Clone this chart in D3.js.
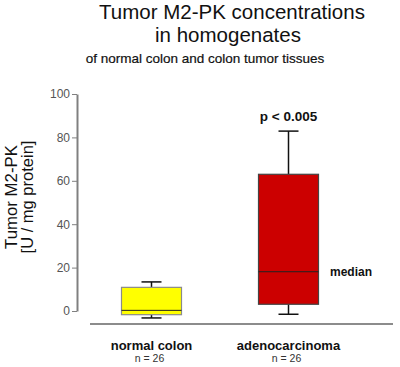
<!DOCTYPE html>
<html>
<head>
<meta charset="utf-8">
<script src="https://cdn.jsdelivr.net/npm/d3@7"></script>
<style>
  html, body { margin: 0; padding: 0; background: #fff; }
  svg { display: block; font-family: Arial, "Liberation Sans", sans-serif; }
</style>
</head>
<body>
<svg id="chart" width="400" height="367"></svg>
<script>
// ---- data ----
const categories = ["normal colon", "adenocarcinoma"];
const nLabels = ["n = 26", "n = 26"];
const whiskerLow = [-3.2, -1.5];
const q1 = [-1.7, 3.1];
const median = [0.3, 18.1];
const q3 = [10.9, 63.0];
const whiskerHigh = [13.4, 82.9];
const boxColors = ["#FFFF00", "#CC0000"];
const boxStrokes = ["#8a8a8a", "#444444"];
const yTicks = [0, 20, 40, 60, 80, 100];
const titleLines = ["Tumor M2-PK concentrations", "in homogenates", "of normal colon and colon tumor tissues"];
const yLabelLines = ["Tumor M2-PK", "[U / mg protein]"];
const pLabel = "p < 0.005";
const medianLabel = "median";

// ---- layout ----
const svg = d3.select("#chart");
const y = d3.scaleLinear().domain([0, 100]).range([311, 94]);
const x = d3.scalePoint().domain(categories).range([151.5, 288.5]);
const boxW = 60, capW = 20;

// title
svg.append("text").attr("x", 232).attr("y", 19).attr("text-anchor", "middle")
  .attr("font-size", 20.5).attr("fill", "#111").text(titleLines[0]);
svg.append("text").attr("x", 228).attr("y", 42).attr("text-anchor", "middle")
  .attr("font-size", 20.5).attr("fill", "#111").text(titleLines[1]);
svg.append("text").attr("x", 205).attr("y", 63).attr("text-anchor", "middle")
  .attr("font-size", 13.5).attr("fill", "#111").attr("stroke", "#111").attr("stroke-width", 0.2)
  .text(titleLines[2]);

// y axis
const axisG = svg.append("g").attr("transform", "translate(77,0)")
  .call(d3.axisLeft(y).tickValues(yTicks).tickSize(5).tickPadding(2).tickSizeOuter(0));
axisG.select(".domain").attr("stroke", "#808080").attr("stroke-width", 2);
axisG.selectAll(".tick line").attr("stroke", "#808080").attr("stroke-width", 1);
axisG.selectAll(".tick text").attr("fill", "#555").attr("font-size", 12)
  .attr("font-family", "Arial, 'Liberation Sans', sans-serif");

// y label
const yl = svg.append("g").attr("transform", "translate(0,197) rotate(-90)");
yl.append("text").attr("x", 0).attr("y", 17).attr("text-anchor", "middle")
  .attr("font-size", 16.8).attr("fill", "#111").text(yLabelLines[0]);
yl.append("text").attr("x", 0).attr("y", 33).attr("text-anchor", "middle")
  .attr("font-size", 16.5).attr("fill", "#111").text(yLabelLines[1]);

// baseline
svg.append("line").attr("x1", 90).attr("x2", 393).attr("y1", 324).attr("y2", 324)
  .attr("stroke", "#666").attr("stroke-width", 1.5);

// boxes
categories.forEach((c, i) => {
  const cx = x(c);
  const g = svg.append("g");
  // upper whisker
  g.append("line").attr("x1", cx).attr("x2", cx).attr("y1", y(q3[i])).attr("y2", y(whiskerHigh[i]))
    .attr("stroke", "#111").attr("stroke-width", 1.5);
  g.append("line").attr("x1", cx - capW / 2).attr("x2", cx + capW / 2)
    .attr("y1", y(whiskerHigh[i])).attr("y2", y(whiskerHigh[i]))
    .attr("stroke", "#111").attr("stroke-width", 1.5);
  // lower whisker
  g.append("line").attr("x1", cx).attr("x2", cx).attr("y1", y(q1[i])).attr("y2", y(whiskerLow[i]))
    .attr("stroke", "#111").attr("stroke-width", 1.5);
  g.append("line").attr("x1", cx - capW / 2).attr("x2", cx + capW / 2)
    .attr("y1", y(whiskerLow[i])).attr("y2", y(whiskerLow[i]))
    .attr("stroke", "#111").attr("stroke-width", 1.5);
  // box
  g.append("rect").attr("x", cx - boxW / 2).attr("y", y(q3[i]))
    .attr("width", boxW).attr("height", y(q1[i]) - y(q3[i]))
    .attr("fill", boxColors[i]).attr("stroke", boxStrokes[i]).attr("stroke-width", 1.2);
  // median
  g.append("line").attr("x1", cx - boxW / 2).attr("x2", cx + boxW / 2)
    .attr("y1", y(median[i])).attr("y2", y(median[i]))
    .attr("stroke", "#222").attr("stroke-width", 1);
  // category labels
  svg.append("text").attr("x", cx).attr("y", 350).attr("text-anchor", "middle")
    .attr("font-size", 13).attr("font-weight", "bold").attr("fill", "#111").text(c);
  svg.append("text").attr("x", cx - 2).attr("y", 362).attr("text-anchor", "middle")
    .attr("font-size", 10.5).attr("fill", "#333").text(nLabels[i]);
});

// p-value
svg.append("text").attr("x", x(categories[1])).attr("y", 121).attr("text-anchor", "middle")
  .attr("font-size", 13.5).attr("font-weight", "bold").attr("fill", "#111").text(pLabel);

// median label
svg.append("text").attr("x", 330).attr("y", y(median[1]) + 4)
  .attr("font-size", 12).attr("font-weight", "bold").attr("fill", "#111").text(medianLabel);
</script>
</body>
</html>
